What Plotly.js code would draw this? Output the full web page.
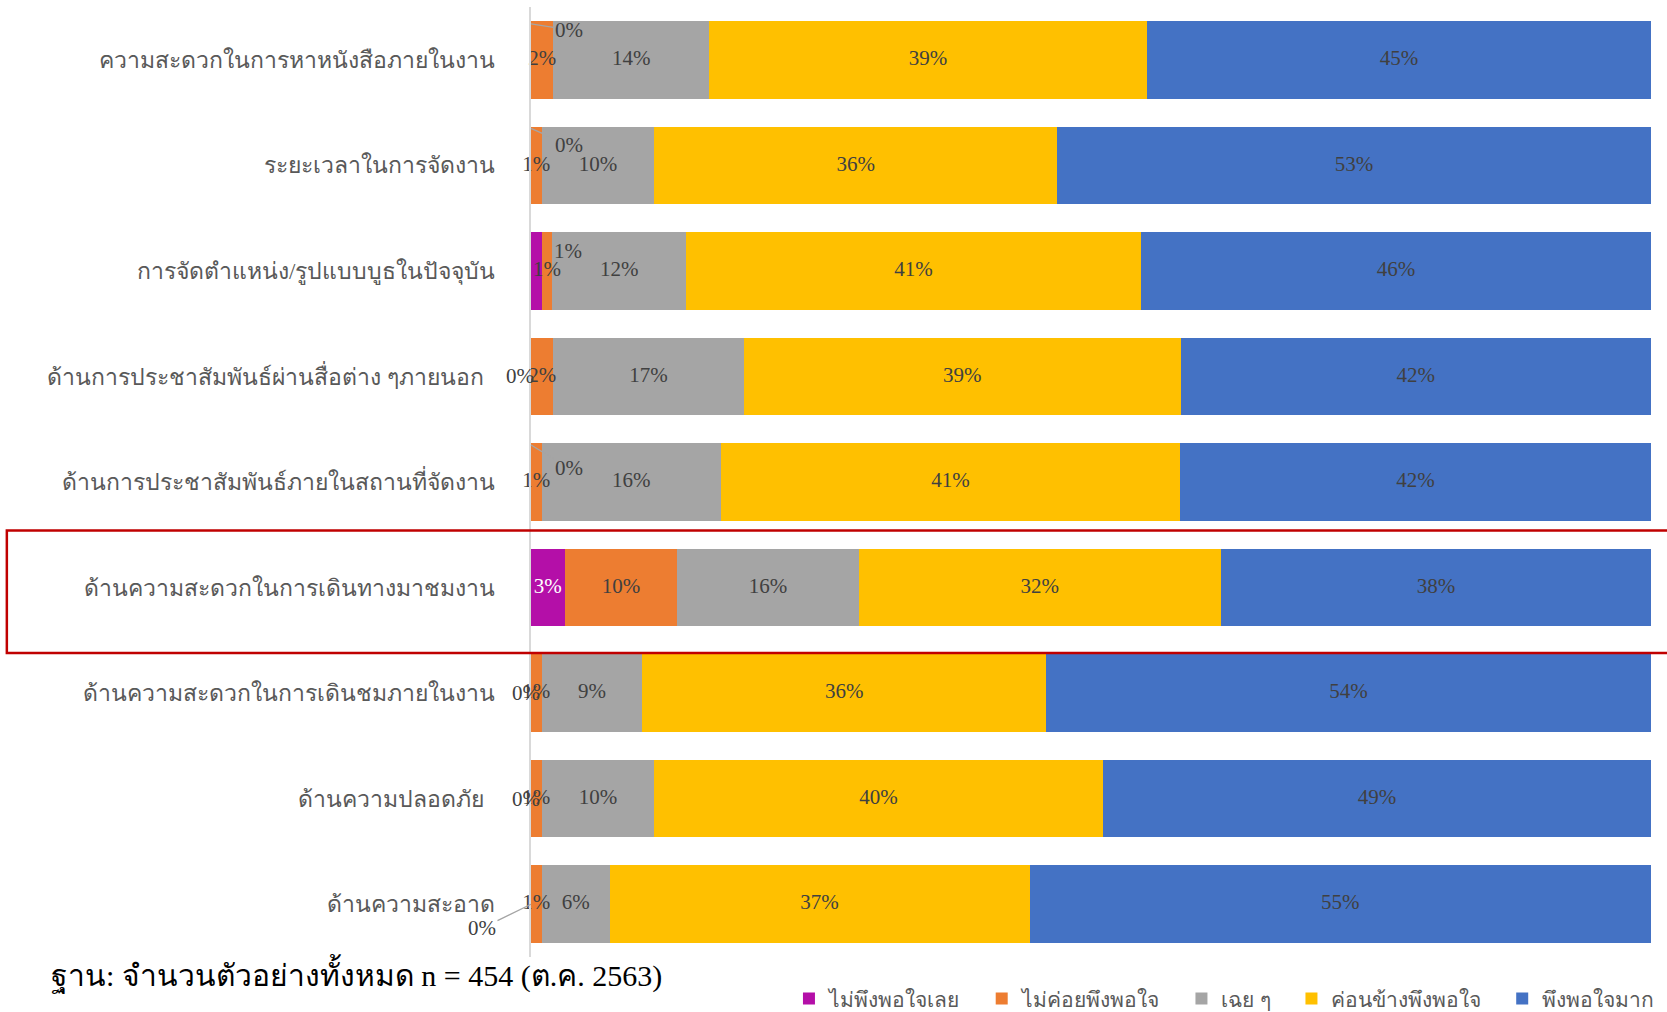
<!DOCTYPE html>
<html>
<head>
<meta charset="utf-8">
<script src="https://cdn.plot.ly/plotly-3.0.1.min.js"></script>
<style>html,body{margin:0;padding:0;background:#fff;}#chart{width:1667px;height:1012px;}</style>
</head>
<body>
<div id="chart"></div>
<script>
// Categories (top to bottom)
const categories = [
  "ความสะดวกในการหาหนังสือภายในงาน",
  "ระยะเวลาในการจัดงาน",
  "การจัดตำแหน่ง/รูปแบบบูธในปัจจุบัน",
  "ด้านการประชาสัมพันธ์ผ่านสื่อต่าง ๆภายนอก\u00a0\u00a0",
  "ด้านการประชาสัมพันธ์ภายในสถานที่จัดงาน",
  "ด้านความสะดวกในการเดินทางมาชมงาน",
  "ด้านความสะดวกในการเดินชมภายในงาน",
  "ด้านความปลอดภัย\u00a0\u00a0",
  "ด้านความสะอาด"
];
// Series names
const seriesNames = ["ไม่พึงพอใจเลย", "ไม่ค่อยพึงพอใจ", "เฉย ๆ", "ค่อนข้างพึงพอใจ", "พึงพอใจมาก"];
// Values (percent)
const notSatisfied      = [0, 0, 0.95, 0, 0, 3.0, 0, 0, 0];
const slightlySatisfied = [2.0, 0.95, 0.95, 2.0, 0.95, 10.06, 0.95, 0.95, 0.95];
const neutral           = [13.9, 10.06, 11.95, 17.0, 16.0, 16.2, 9.0, 10.06, 6.07];
const fairlySatisfied   = [39.1, 35.96, 40.6, 39.0, 41.0, 32.35, 36.05, 40.04, 37.49];
const verySatisfied     = [45.0, 53.03, 45.55, 42.0, 42.05, 38.39, 54.0, 48.95, 55.49];
const footnote = "ฐาน: จำนวนตัวอย่างทั้งหมด n = 454 (ต.ค. 2563)";

const colors = ["#B40FA8", "#ED7D31", "#A5A5A5", "#FFC000", "#4472C4"];
const labelFont = {family: "Liberation Serif, DejaVu Serif, serif", size: 21, color: "#404040"};
const allSeries = [notSatisfied, slightlySatisfied, neutral, fairlySatisfied, verySatisfied];

// Bars
const traces = allSeries.map((vals, i) => ({
  type: "bar", orientation: "h",
  name: seriesNames[i] + (i < allSeries.length - 1 ? "\u00a0\u00a0\u00a0" : ""),
  y: categories, x: vals,
  marker: {color: colors[i], line: {width: 0}},
  textposition: "none", hoverinfo: "skip"
}));

// Data labels drawn on top of all bars, centred on each segment
allSeries.forEach((vals, i) => {
  const mids = vals.map((v, r) => {
    let start = 0;
    for (let k = 0; k < i; k++) start += allSeries[k][r];
    return start + v / 2;
  });
  const show = vals.map(v => i === 0 ? v >= 2 : v > 0);
  traces.push({
    type: "scatter", mode: "text", showlegend: false, hoverinfo: "skip",
    x: mids.filter((m, r) => show[r]),
    y: categories.filter((c, r) => show[r]),
    text: vals.filter((v, r) => show[r]).map(v => Math.round(v) + "%"),
    textposition: "middle center",
    textfont: Object.assign({}, labelFont, {color: i === 0 ? "#FFFFFF" : "#404040"}),
    cliponaxis: false
  });
});

// Placement of the small "ไม่พึงพอใจเลย" labels (pixel offsets from bar start)
const smallLabelPlacement = [
  {arrow: true, yshift: 36, ax: 38, ay: 6},
  {arrow: true, yshift: 37, ax: 38, ay: 17},
  {arrow: false, xshift: 37, yshift: 20},
  {arrow: false, xshift: -11, yshift: 0},
  {arrow: true, yshift: 37, ax: 38, ay: 23},
  null,
  {arrow: false, xshift: -5, yshift: 0},
  {arrow: false, xshift: -5, yshift: 0},
  {arrow: true, yshift: 0, ax: -49, ay: 24}
];

const annotations = [];
notSatisfied.forEach((v, i) => {
  const p = smallLabelPlacement[i];
  if (!p) return;
  const a = {
    x: 0, y: categories[i], xref: "x", yref: "y",
    text: Math.round(v) + "%", font: labelFont,
    showarrow: p.arrow, yshift: p.yshift || 0, xshift: p.xshift || 0
  };
  if (p.arrow) {
    a.ax = p.ax; a.ay = p.ay; a.axref = "pixel"; a.ayref = "pixel";
    a.arrowhead = 0; a.arrowwidth = 1.3; a.arrowcolor = "#A5A5A5"; a.standoff = 0;
  }
  annotations.push(a);
});
annotations.push({
  xref: "paper", yref: "paper", x: -0.43, y: -0.0175, xanchor: "left", yanchor: "middle",
  text: footnote, showarrow: false,
  font: {family: "Liberation Serif, DejaVu Serif, serif", size: 30, color: "#000000"}
});

const layout = {
  width: 1667, height: 1012,
  margin: {l: 531, r: 16, t: 7, b: 55, pad: 0, autoexpand: false},
  barmode: "stack", bargap: 0.265,
  paper_bgcolor: "#FFFFFF", plot_bgcolor: "#FFFFFF",
  showlegend: true,
  legend: {
    orientation: "h", x: 1.008, xanchor: "right", y: -0.044, yanchor: "middle",
    font: {family: "Liberation Serif, DejaVu Serif, serif", size: 21, color: "#595959"},
    traceorder: "normal", itemwidth: 30
  },
  xaxis: {range: [0, 100], showgrid: false, zeroline: false, showticklabels: false, showline: false, ticks: "", fixedrange: true},
  yaxis: {
    autorange: "reversed", type: "category",
    showline: true, linecolor: "#D9D9D9", linewidth: 2,
    showgrid: false, ticks: "", ticklabelstandoff: 29,
    tickfont: {family: "Liberation Serif, DejaVu Serif, serif", size: 23, color: "#595959"}
  },
  shapes: [{
    type: "rect", xref: "paper", yref: "y",
    x0: -0.468, x1: 1.02, y0: 5 - 0.54, y1: 5 + 0.62,
    line: {color: "#C00000", width: 2.5}, fillcolor: "rgba(0,0,0,0)", layer: "above"
  }],
  annotations: annotations
};

Plotly.newPlot("chart", traces, layout, {displayModeBar: false, staticPlot: true});
</script>
</body>
</html>
